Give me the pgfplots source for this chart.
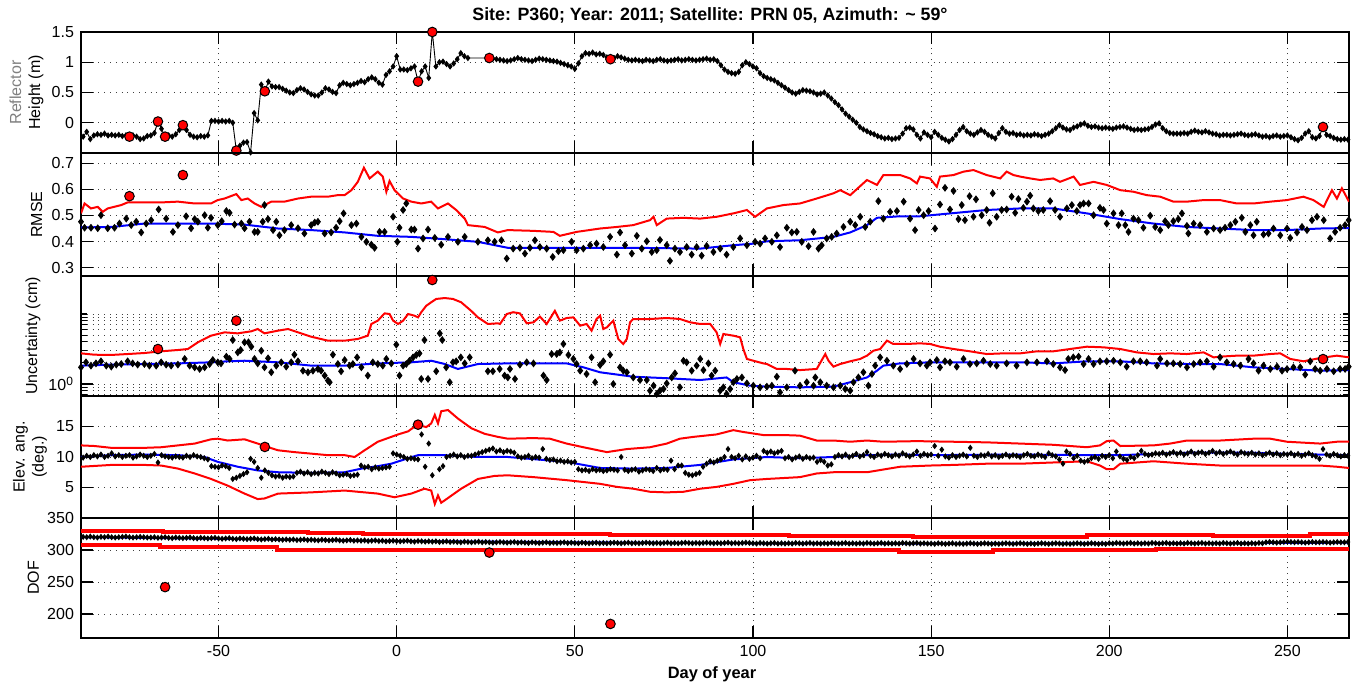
\documentclass[border=0pt]{standalone}
\usepackage{fontspec}
\setmainfont{Liberation Sans}
\usepackage{pgfplots}
\usepackage{pgfplotstable}
\pgfplotsset{compat=1.18}

% daily solutions: reflector height (m), elevation angle (deg), degrees of freedom
\pgfplotstableread{
d h e f
-88 -0.23 9.9 320.5
-87 -0.15 10.2 320
-86 -0.27 10.0 321
-85 -0.21 10.3 320
-84 -0.19 10.1 319.5
-83 -0.20 10.4 320.5
-82 -0.18 10.0 320
-81 -0.21 10.2 321
-80 -0.20 10.6 320
-79 -0.21 10.1 319.5
-78 -0.20 10.3 320
-77 -0.22 10.0 320.5
-76 -0.21 10.2 321
-75 -0.23 10.3 320
-74 -0.21 9.9 319.5
-73 -0.23 10.1 320
-72 -0.27 10.4 320.5
-71 -0.26 10.2 320
-70 -0.22 10.0 319.5
-69 -0.21 10.2 319.5
-68 -0.17 10.5 320
-67 0.02 9.1 319
-66 -0.10 10.3 319.5
-65 -0.23 10.1 320
-64 -0.21 10.0 319
-63 -0.23 9.9 318.5
-62 -0.19 10.1 319.5
-61 -0.12 10.0 319
-60 -0.04 9.9 318.5
-59 -0.12 10.2 319
-58 -0.20 10.0 319.5
-57 -0.23 10.3 318.5
-56 -0.24 10.1 318
-55 -0.22 10.0 319
-54 -0.23 9.8 318.5
-53 -0.21 9.6 318
-52 0.03 8.5 318.5
-51 0.03 8.4 319
-50 0.02 8.3 318
-49 0.03 8.6 317.5
-48 0.02 8.5 318
-47 0.03 8.2 318.5
-46 0.00 6.4 317.5
-45 -0.46 6.6 317
-44 -0.38 6.9 318
-43 -0.33 7.2 317.5
-42 -0.32 7.5 317
-41 -0.49 9.7 317.5
-40 0.16 9.2 318
-39 0.04 8.2 317
-38 0.63 6.6 316.5
-37 0.52 7.8 317
-36 0.68 7.4 317.5
-35 0.60 7.0 316.5
-34 0.59 6.8 317
-33 0.59 6.9 316.5
-32 0.56 6.6 316
-31 0.53 6.8 316.5
-30 0.50 6.7 316
-29 0.49 6.8 316.5
-28 0.54 7.4 315.5
-27 0.57 7.6 316
-26 0.55 7.3 316.5
-25 0.51 7.5 315.5
-24 0.47 7.2 316
-23 0.45 7.4 315.5
-22 0.45 7.3 315
-21 0.50 7.6 316
-20 0.57 7.4 315.5
-19 0.55 7.2 315
-18 0.51 7.5 315.5
-17 0.49 7.3 316
-16 0.62 7.0 315
-15 0.66 7.1 314.5
-14 0.64 7.2 315
-13 0.62 6.9 315.5
-12 0.64 7.0 314.5
-11 0.66 7.1 315
-10 0.69 8.6 314.5
-9 0.67 8.3 315
-8 0.72 8.4 314
-7 0.75 8.0 314.5
-6 0.72 8.3 315
-5 0.66 8.1 314
-4 0.63 8.2 314.5
-3 0.79 8.3 313.5
-2 0.85 8.4 314
-1 0.93 10.6 314.5
0 1.10 10.4 314
1 0.88 10.2 313.5
2 0.88 10.0 314
3 0.87 9.7 314.5
4 0.90 9.8 313.5
5 0.93 9.7 313
6 0.68 9.6 314
7 0.85 13.7 313.5
8 0.93 8.4 313
9 0.74 12.2 313.5
10 1.50 7.0 313
11 0.93 nan 313.5
12 1.00 8.0 312.5
13 1.01 8.5 313
14 0.97 10.0 313.5
15 0.93 10.2 312.5
16 0.98 10.4 313
17 1.05 10.1 312.5
18 1.15 10.3 312
19 1.10 10.0 313
20 1.07 10.2 312.5
21 nan 10.2 312
22 nan 10.4 312.5
23 nan 10.6 313
24 nan 10.8 312
25 nan 11.0 312.5
26 1.07 11.2 312
27 1.06 11.4 311.5
28 1.05 10.9 312
29 1.04 11.1 312.5
30 1.03 10.8 312
31 1.02 11.0 311.5
32 1.03 10.9 312
33 1.05 10.7 312.5
34 1.07 10.1 311.5
35 1.05 9.9 312
36 1.04 10.0 311.5
37 1.03 10.2 311
38 1.02 9.8 312
39 1.04 10.0 311.5
40 1.06 9.9 311
41 1.05 11.3 311.5
42 1.04 9.7 312
43 1.03 9.5 311
44 1.02 9.6 311.5
45 1.01 9.3 311
46 0.99 9.4 311.5
47 0.97 9.2 312
48 0.95 9.3 311
49 0.93 9.1 311.5
50 0.89 9.2 311
51 0.98 8.0 310.5
52 1.10 7.8 311.5
53 1.15 7.9 311
54 1.14 7.7 310.5
55 1.16 8.0 311
56 1.13 7.8 311.5
57 1.14 7.9 310.5
58 1.12 7.7 311
59 1.08 7.8 310.5
60 1.05 8.0 311
61 1.07 7.9 311.5
62 1.10 7.8 311
63 1.08 10.0 310.5
64 1.06 7.9 311
65 1.04 7.7 311.5
66 1.03 7.9 310.5
67 1.04 8.0 311
68 1.03 7.6 310.5
69 1.02 7.8 311
70 1.04 8.0 311.5
71 1.03 7.9 311
72 1.02 7.7 310.5
73 1.04 8.2 311
74 1.05 7.8 310.5
75 1.03 8.0 311
76 1.02 7.9 311.5
77 1.03 9.4 310.5
78 1.04 8.0 311
79 1.05 8.6 310.5
80 1.03 8.6 311
81 1.04 7.4 311.5
82 1.05 7.1 311
83 1.04 7.0 310.5
84 1.03 7.2 311
85 1.04 7.4 310.5
86 1.05 8.4 311
87 1.06 8.9 311.5
88 1.04 9.3 311
89 1.05 9.1 310.5
90 1.02 9.4 311
91 0.95 9.6 310.5
92 0.88 10.0 311
93 0.84 11.3 311.5
94 0.82 10.0 310.5
95 0.81 9.8 311
96 0.84 10.2 310.5
97 0.95 9.6 311
98 1.00 10.1 311.5
99 0.97 9.7 311
100 0.93 9.9 310.5
101 0.90 10.2 310
102 0.82 9.8 311
103 0.77 11.0 310.5
104 0.74 10.7 310
105 0.72 10.9 310.5
106 0.70 10.6 311
107 0.66 10.8 310
108 0.62 11.0 310.5
109 0.58 9.8 310
110 0.54 10.0 310.5
111 0.50 9.6 310
112 0.48 9.9 311
113 0.51 10.1 310.5
114 0.54 9.7 310
115 0.53 10.0 310.5
116 0.52 9.8 311
117 0.50 9.9 310
118 0.47 9.2 310.5
119 0.48 9.5 310
120 0.50 9.2 310.5
121 0.45 8.6 310
122 0.40 8.8 311
123 0.34 10.0 310.5
124 0.29 10.3 310
125 0.22 10.1 310.5
126 0.15 10.4 311
127 0.10 10.0 310
128 0.05 10.2 310.5
129 0.00 10.5 310
130 -0.07 10.1 310.5
131 -0.11 10.3 310
132 -0.14 10.8 311
133 -0.17 10.2 310.5
134 -0.19 10.0 310
135 -0.22 10.4 310.5
136 -0.24 10.2 311
137 -0.26 10.5 310
138 -0.25 10.3 310.5
139 -0.27 10.1 310
140 -0.26 10.4 310.5
141 -0.25 10.2 310
142 -0.18 10.6 311
143 -0.09 10.3 310.5
144 -0.08 10.1 310
145 -0.11 10.4 310.5
146 -0.20 10.9 311
147 -0.26 10.2 310
148 -0.16 10.5 310.5
149 -0.20 10.3 310
150 -0.24 10.4 310
151 -0.15 11.8 309.5
152 -0.20 10.2 310.5
153 -0.25 11.2 310
154 -0.28 10.1 309.5
155 -0.31 9.9 310
156 -0.27 10.3 310.5
157 -0.20 10.0 309.5
158 -0.12 10.2 310
159 -0.07 10.4 309.5
160 -0.14 10.1 310
161 -0.18 11.5 310.5
162 -0.20 10.2 310
163 -0.16 10.0 309.5
164 -0.12 10.3 310
165 -0.15 10.2 310.5
166 -0.20 10.5 310
167 -0.23 10.1 309.5
168 -0.26 10.3 310
169 -0.17 10.0 309.5
170 -0.09 10.2 310
171 -0.15 10.4 310.5
172 -0.18 10.1 310
173 -0.17 10.3 309.5
174 -0.20 10.2 310
175 -0.19 10.0 310.5
176 -0.21 10.3 310
177 -0.20 10.5 309.5
178 -0.21 10.2 310
179 -0.19 10.1 309.5
180 -0.20 10.4 310
181 -0.22 10.2 310.5
182 -0.20 10.0 310
183 -0.18 10.6 309.5
184 -0.14 10.3 310
185 -0.09 10.1 310.5
186 -0.04 9.6 310
187 -0.08 8.9 309.5
188 -0.11 10.9 310
189 -0.12 10.5 309.5
190 -0.08 9.8 310
191 -0.06 10.2 310.5
192 -0.03 9.4 310
193 -0.01 9.2 309.5
194 -0.05 9.4 310
195 -0.07 9.8 310.5
196 -0.06 10.0 310
197 -0.08 9.7 309.5
198 -0.09 10.2 310
199 -0.08 10.0 309.5
200 -0.09 10.3 310.5
201 -0.10 9.8 310
202 -0.08 10.9 311
203 -0.07 10.1 310.5
204 -0.06 9.7 310
205 -0.08 9.5 310.5
206 -0.10 10.0 311
207 -0.12 9.8 310
208 -0.11 10.3 310.5
209 -0.12 11.0 310
210 -0.11 10.5 310.5
211 -0.10 10.3 310
212 -0.07 10.4 311
213 -0.03 10.6 310.5
214 -0.01 10.5 310
215 -0.09 10.7 310.5
216 -0.14 10.4 311
217 -0.17 10.6 310
218 -0.18 10.8 310.5
219 -0.18 10.5 310
220 -0.18 10.7 310.5
221 -0.17 10.4 310
222 -0.18 10.6 311
223 -0.15 10.9 310.5
224 -0.13 10.5 310
225 -0.15 10.7 310.5
226 -0.16 10.8 311
227 -0.14 10.5 310
228 -0.16 10.7 310.5
229 -0.18 11.0 310
230 -0.19 10.6 310.5
231 -0.21 10.8 310
232 -0.20 10.5 311
233 -0.20 10.7 310.5
234 -0.21 10.9 310
235 -0.20 10.6 310.5
236 -0.19 10.4 311
237 -0.18 10.8 310
238 -0.20 10.6 310.5
239 -0.21 10.5 310
240 -0.20 10.7 310.5
241 -0.19 10.4 310
242 -0.21 10.6 311
243 -0.23 10.3 310.5
244 -0.22 10.5 312
245 -0.24 10.7 312.5
246 -0.22 10.4 312
247 -0.21 10.6 311.5
248 -0.23 10.3 312
249 -0.22 10.5 312.5
250 -0.21 10.4 313
251 -0.24 10.6 312.5
252 -0.27 10.3 312
253 -0.29 10.5 312.5
254 -0.25 10.2 312
255 -0.18 10.4 311.5
256 -0.14 10.6 312
257 -0.24 10.3 312.5
258 -0.26 10.1 312
259 -0.22 9.7 312
260 -0.07 11.3 312.5
261 -0.20 10.4 312
262 -0.22 10.2 311.5
263 -0.25 10.5 312
264 -0.27 10.3 312.5
265 -0.28 10.1 312
266 -0.27 10.3 312
267 -0.28 10.2 312.5
}\daily

% RMSE of the daily fits
\pgfplotstableread{
d r
-88.6 0.476
-87.6 0.453
-85.8 0.453
-83.9 0.451
-83.0 0.501
-81.1 0.451
-79.2 0.453
-77.8 0.469
-75.9 0.488
-74.5 0.463
-73.1 0.476
-71.7 0.435
-70.3 0.469
-68.9 0.482
-66.8 0.523
-64.7 0.488
-62.8 0.437
-61.4 0.463
-59.1 0.497
-57.7 0.451
-56.7 0.486
-55.8 0.476
-53.9 0.501
-53.0 0.453
-52.1 0.491
-50.2 0.463
-49.1 0.478
-47.8 0.517
-46.9 0.510
-45.5 0.465
-43.6 0.469
-42.7 0.451
-41.3 0.476
-39.9 0.437
-39.0 0.437
-37.6 0.476
-37.1 0.540
-36.1 0.486
-34.7 0.444
-33.8 0.476
-32.9 0.424
-31.5 0.444
-29.6 0.463
-27.7 0.451
-25.9 0.431
-24.0 0.463
-23.0 0.473
-22.1 0.476
-20.2 0.431
-18.4 0.435
-17.0 0.453
-16.0 0.478
-14.9 0.508
-12.7 0.463
-11.3 0.469
-9.9 0.418
-8.5 0.399
-7.1 0.388
-6.2 0.376
-4.8 0.437
-3.4 0.437
-1.0 0.495
0.2 0.399
0.8 0.453
1.8 0.521
2.7 0.546
4.1 0.446
5.0 0.446
6.0 0.373
7.4 0.412
8.8 0.446
10.7 0.414
12.5 0.388
14.4 0.418
17.2 0.399
19.1 0.418
22.8 0.399
25.6 0.405
27.5 0.399
29.4 0.405
30.9 0.335
32.7 0.373
34.6 0.376
36.0 0.354
37.4 0.376
38.8 0.405
40.2 0.379
42.1 0.373
43.8 0.341
45.4 0.363
46.8 0.367
49.1 0.399
50.5 0.367
52.4 0.373
54.3 0.386
56.1 0.392
58.0 0.379
59.9 0.418
61.8 0.350
62.7 0.435
64.1 0.386
66.0 0.354
67.4 0.422
68.8 0.373
70.2 0.401
71.6 0.360
73.0 0.367
73.9 0.406
75.8 0.386
76.7 0.326
78.1 0.373
79.5 0.360
81.4 0.379
82.8 0.350
84.2 0.379
85.6 0.346
87.0 0.383
88.9 0.360
90.8 0.373
92.6 0.350
94.5 0.379
96.4 0.412
98.3 0.386
100.6 0.399
102.0 0.392
103.4 0.412
105.3 0.399
106.7 0.424
107.6 0.379
109.5 0.453
110.9 0.435
112.3 0.437
113.7 0.399
115.6 0.382
117.0 0.437
118.4 0.373
119.3 0.386
120.7 0.412
122.1 0.418
123.5 0.431
125.4 0.456
127.3 0.476
128.7 0.463
130.1 0.495
131.5 0.456
132.9 0.476
135.2 0.555
136.6 0.488
138.5 0.514
140.4 0.517
142.3 0.553
144.1 0.488
145.5 0.444
146.5 0.521
147.9 0.501
149.3 0.517
151.1 0.450
152.5 0.542
153.9 0.606
155.3 0.523
156.3 0.594
157.7 0.486
158.6 0.540
159.5 0.482
160.8 0.574
161.9 0.495
162.6 0.562
164.2 0.501
165.6 0.521
166.4 0.472
167.3 0.585
168.4 0.495
169.8 0.521
171.2 0.523
172.6 0.572
173.6 0.510
174.5 0.563
175.9 0.529
176.9 0.553
177.8 0.576
178.7 0.527
180.1 0.517
181.5 0.521
183.4 0.555
184.8 0.521
186.2 0.495
188.1 0.527
189.5 0.540
190.9 0.517
191.8 0.540
192.8 0.546
194.2 0.546
195.6 0.501
197.4 0.529
198.4 0.521
199.3 0.469
201.2 0.508
202.6 0.463
203.5 0.508
204.5 0.463
205.4 0.437
206.8 0.488
208.2 0.482
209.6 0.453
211.5 0.499
212.9 0.456
214.3 0.444
215.7 0.478
216.6 0.463
218.0 0.478
219.4 0.486
220.4 0.508
221.8 0.460
222.2 0.431
223.7 0.469
225.5 0.463
227.4 0.437
229.3 0.450
231.1 0.444
232.5 0.453
234.0 0.463
235.4 0.476
237.2 0.491
238.2 0.437
239.6 0.463
240.5 0.424
241.4 0.476
243.3 0.427
244.7 0.431
246.1 0.450
248.0 0.424
249.9 0.450
250.8 0.414
252.7 0.435
254.1 0.456
255.5 0.444
256.9 0.482
258.3 0.495
260.2 0.482
262.0 0.412
263.4 0.437
264.8 0.453
266.2 0.463
267.2 0.482
}\rmsepts

\pgfplotstableread{
d r
-88.6 0.508
-87.6 0.546
-85.8 0.527
-83.9 0.533
-82.5 0.514
-81.1 0.527
-77.3 0.540
-75.5 0.550
-70.8 0.550
-66.1 0.550
-61.4 0.553
-56.7 0.546
-52.1 0.546
-50.2 0.559
-48.3 0.565
-45.0 0.582
-43.6 0.559
-41.8 0.565
-39.9 0.546
-38.0 0.533
-35.2 0.553
-31.5 0.553
-27.7 0.565
-24.0 0.572
-19.3 0.572
-16.5 0.578
-14.6 0.578
-12.7 0.597
-10.9 0.629
-9.2 0.683
-7.6 0.642
-5.3 0.668
-3.9 0.649
-2.9 0.591
-2.0 0.632
-0.6 0.597
1.8 0.565
4.1 0.553
6.9 0.546
9.7 0.553
11.6 0.527
14.4 0.546
16.7 0.521
19.1 0.488
20.0 0.463
24.7 0.456
28.4 0.435
31.2 0.444
38.4 0.441
44.0 0.437
45.8 0.422
50.5 0.437
57.1 0.450
61.8 0.456
66.4 0.463
71.1 0.482
72.1 0.495
73.0 0.463
75.8 0.488
80.5 0.491
85.2 0.488
89.8 0.495
94.5 0.508
98.3 0.521
100.6 0.495
103.9 0.527
108.6 0.540
113.2 0.546
117.9 0.565
122.6 0.585
124.5 0.597
127.3 0.578
132.0 0.636
134.8 0.617
136.6 0.655
141.3 0.655
144.1 0.642
146.0 0.623
146.9 0.649
149.7 0.642
151.6 0.610
152.5 0.649
156.3 0.655
159.1 0.668
161.9 0.674
165.6 0.655
169.4 0.642
171.2 0.668
173.1 0.655
175.0 0.649
177.8 0.642
180.6 0.636
184.3 0.642
186.2 0.629
190.0 0.649
191.8 0.617
195.6 0.629
199.3 0.617
203.1 0.597
206.8 0.591
210.5 0.578
214.3 0.572
218.0 0.553
221.8 0.553
226.5 0.559
231.1 0.559
235.8 0.546
240.5 0.546
245.2 0.553
249.9 0.559
254.5 0.572
257.3 0.559
260.2 0.533
262.5 0.597
263.9 0.565
265.3 0.604
267.3 0.553
}\rmsehi

\pgfplotstableread{
d r
-88.6 0.454
-80.0 0.456
-70.8 0.469
-61.4 0.469
-52.1 0.469
-42.7 0.465
-33.3 0.450
-24.0 0.444
-14.6 0.435
-5.3 0.422
4.1 0.418
13.5 0.409
22.8 0.399
31.2 0.376
47.7 0.376
66.4 0.376
85.2 0.373
94.5 0.386
100.1 0.392
103.9 0.401
113.2 0.405
122.6 0.418
127.3 0.435
132.0 0.463
134.8 0.491
141.3 0.497
146.9 0.497
165.6 0.521
175.0 0.527
184.3 0.527
193.7 0.508
203.1 0.486
212.4 0.469
221.8 0.456
231.1 0.450
240.5 0.444
249.9 0.444
259.2 0.450
267.3 0.452
}\rmseavg

% height uncertainty (cm)
\pgfplotstableread{
d u
-88.6 1.73
-87.2 2.04
-85.8 1.83
-84.4 1.97
-83.0 2.11
-81.5 1.83
-80.1 1.77
-78.7 1.89
-77.3 1.93
-75.5 2.11
-74.1 1.97
-72.7 1.89
-70.8 1.93
-69.4 1.83
-67.5 1.83
-66.1 2.04
-64.7 1.89
-63.3 1.83
-61.4 1.89
-59.5 2.28
-58.1 1.83
-56.7 1.73
-55.3 1.64
-53.9 1.73
-52.5 1.93
-51.6 2.20
-50.2 2.04
-49.3 1.97
-47.8 2.46
-46.9 2.28
-46.0 4.25
-44.6 2.83
-43.8 3.06
-42.7 3.94
-41.6 3.94
-40.8 3.41
-39.9 2.28
-39.0 1.97
-38.0 2.99
-37.1 1.73
-36.1 2.33
-35.2 1.47
-33.8 1.83
-32.4 2.04
-31.0 1.77
-29.6 2.04
-28.7 2.62
-27.7 2.11
-26.3 1.55
-24.9 1.47
-23.5 1.55
-22.1 1.64
-21.2 1.55
-20.2 1.32
-19.3 1.12
-18.8 1.06
-17.9 2.62
-16.5 1.93
-15.6 1.52
-14.6 2.20
-13.2 1.83
-12.3 1.93
-11.1 2.40
-9.9 1.73
-8.1 1.32
-6.7 2.04
-5.3 1.93
-3.9 1.83
-2.9 2.28
-1.5 1.97
-0.1 3.65
0.8 1.32
1.8 1.83
2.7 1.93
3.6 2.15
4.6 2.40
5.5 2.60
6.4 2.74
6.9 1.18
7.8 4.25
8.8 1.18
11.1 1.52
12.1 5.29
12.8 4.25
13.9 1.73
14.9 1.06
15.8 2.04
16.7 2.11
18.0 2.40
19.1 1.97
20.5 2.40
25.6 1.52
27.0 1.52
28.9 1.64
30.3 1.32
31.2 1.24
31.8 1.64
33.2 1.18
34.6 1.89
36.5 2.04
38.4 1.97
41.2 1.32
42.1 1.14
43.5 2.68
44.9 2.68
45.8 2.83
46.8 3.73
48.2 2.60
49.6 2.28
50.5 1.93
51.5 1.55
53.3 1.39
54.7 2.40
55.7 1.06
57.1 1.87
58.0 2.11
59.9 2.62
60.8 1.00
62.7 1.73
63.6 1.55
64.6 1.47
66.4 1.24
68.3 1.14
70.2 1.14
71.1 0.803
72.1 0.946
73.0 0.72
73.9 0.803
74.9 0.849
75.8 1.02
77.2 1.24
78.1 1.42
79.5 0.896
80.5 2.15
81.4 2.04
82.8 1.55
84.2 1.83
85.2 2.28
86.1 1.58
87.5 1.97
88.4 1.32
89.4 1.55
90.8 0.803
91.7 0.896
92.6 0.72
93.6 0.849
94.5 1.06
95.5 1.18
96.9 1.24
98.3 1.02
100.1 0.946
102.0 0.896
103.9 0.916
105.3 0.946
106.7 1.27
107.6 0.76
109.5 0.896
111.8 1.55
113.2 0.946
115.1 1.06
117.0 0.946
117.5 1.24
118.9 1.06
120.7 0.946
122.6 0.896
124.5 0.946
125.9 0.849
127.3 0.803
128.2 1.06
129.6 1.24
131.0 1.47
132.4 0.946
133.4 1.39
134.3 1.83
135.7 2.40
137.6 2.15
139.4 1.83
141.3 1.64
143.2 1.93
145.1 2.28
146.9 1.97
148.8 1.83
149.7 2.04
151.6 2.20
152.5 1.73
153.9 2.11
155.3 2.04
157.2 1.77
159.1 2.28
160.9 1.93
162.8 1.97
164.7 2.15
166.6 1.93
168.4 1.83
171.2 1.97
174.0 1.83
176.9 2.04
179.7 2.04
182.5 2.11
184.3 1.93
186.2 1.73
187.6 1.58
188.5 2.28
189.9 2.40
191.4 2.46
192.8 1.93
194.2 2.28
195.6 1.93
197.4 2.11
199.3 2.11
201.2 2.15
203.1 2.04
204.9 1.77
206.8 2.11
208.7 2.11
210.5 2.04
213.4 1.83
214.3 2.28
216.2 1.97
218.0 1.97
219.9 1.93
221.8 1.73
223.7 1.93
225.5 2.04
227.4 2.11
229.3 1.77
231.1 2.40
233.0 2.04
234.9 1.93
236.8 1.83
239.1 2.28
240.5 1.97
241.9 1.55
243.3 1.83
245.2 1.64
247.1 1.77
248.5 1.55
249.9 1.64
251.7 1.73
253.6 1.73
255.0 1.36
256.4 2.11
257.8 1.64
259.2 1.55
261.1 1.64
263.0 1.52
264.8 1.64
266.2 1.64
267.2 1.77
}\uncpts

\pgfplotstableread{
d u
-88.6 2.74
-84.8 2.62
-80.1 2.60
-75.5 2.68
-70.8 2.77
-66.1 2.93
-61.4 3.06
-58.6 3.16
-55.8 3.94
-52.1 4.90
-48.3 5.47
-44.6 5.29
-40.8 5.66
-39.0 6.10
-37.1 5.29
-33.3 5.78
-30.5 6.10
-27.7 5.47
-24.0 4.74
-19.3 4.16
-14.6 4.16
-10.9 4.40
-8.1 4.90
-7.1 7.20
-5.3 8.03
-3.4 10.2
-2.0 10.0
-1.0 8.03
0.4 7.20
1.8 8.03
3.2 10.0
5.0 9.46
6.0 8.95
6.9 10.6
8.3 13.1
9.7 14.7
11.1 16.4
13.5 16.9
15.8 16.4
18.1 14.7
20.9 11.1
22.8 8.95
25.6 7.20
28.4 7.36
29.0 7.20
30.9 10.0
32.7 10.6
34.6 10.2
36.5 7.36
38.4 7.60
40.2 9.18
42.1 7.20
44.4 11.1
45.8 8.03
47.7 8.76
49.6 8.95
51.5 6.81
53.3 7.20
54.7 5.78
56.1 8.48
57.1 9.46
58.0 6.10
59.0 6.45
60.8 8.03
62.2 4.40
63.6 3.73
64.6 4.40
65.5 7.60
66.4 8.48
71.1 8.48
75.8 8.76
79.5 8.48
82.4 7.60
85.2 7.20
88.0 7.20
89.8 5.47
90.8 3.73
91.7 5.18
94.5 4.90
96.4 4.64
97.3 3.16
98.3 2.28
100.1 2.15
102.9 1.97
103.9 1.93
106.7 1.64
109.5 1.64
113.2 1.58
117.9 1.64
120.3 2.68
121.2 2.15
122.6 1.77
124.5 1.93
127.3 2.11
130.1 2.28
132.0 2.54
133.8 2.99
135.7 3.16
137.6 4.16
139.4 3.73
143.2 3.73
146.9 3.81
149.7 3.73
152.5 3.41
156.3 3.16
160.9 2.93
165.6 2.68
170.3 2.74
175.0 2.74
179.7 2.93
184.3 2.93
189.0 3.16
193.7 3.41
198.4 3.34
203.1 3.16
207.7 2.83
212.4 2.68
217.1 2.74
221.8 2.68
226.5 2.83
229.3 2.40
231.1 2.46
235.8 2.54
240.5 2.54
245.2 2.68
248.0 2.74
250.8 2.28
254.5 2.11
259.2 2.35
263.9 2.54
267.3 2.40
}\unchi

\pgfplotstableread{
d u
-88.6 1.83
-80.1 1.89
-70.8 1.93
-61.4 1.97
-52.1 2.04
-47.4 2.11
-42.7 2.15
-33.3 2.04
-24.0 1.83
-14.6 1.83
-5.3 1.97
4.1 2.04
9.7 2.15
13.5 1.93
17.2 1.64
22.8 1.93
31.2 1.97
38.4 1.97
47.7 1.97
52.4 1.73
57.1 1.47
66.4 1.27
75.8 1.21
85.2 1.14
92.6 1.24
94.5 1.06
99.2 0.946
103.9 0.916
113.2 0.896
122.6 0.916
127.3 1.06
132.0 1.24
134.8 1.55
136.6 1.83
141.3 1.97
149.7 2.04
156.3 2.04
165.6 2.04
175.0 2.04
184.3 1.97
193.7 2.11
203.1 2.11
212.4 1.97
221.8 1.93
231.1 1.93
240.5 1.73
249.9 1.64
259.2 1.55
267.3 1.58
}\uncavg

% elevation-angle bounds and running mean (deg)
\pgfplotstableread{
d e
-88.6 11.9
-84.8 11.8
-80.1 11.5
-70.8 11.5
-66.1 11.6
-61.4 11.9
-56.7 12.2
-52.1 12.9
-50.2 13.0
-47.4 12.7
-42.7 12.9
-39.0 12.2
-37.1 11.8
-33.3 11.1
-28.7 10.8
-19.3 10.3
-14.6 10.3
-11.8 10.0
-9.0 11.1
-5.3 12.5
-1.5 13.3
0.4 13.7
3.2 14.2
5.8 15.3
8.3 14.9
9.7 15.5
10.7 16.9
11.6 15.5
12.5 17.5
14.4 17.7
17.2 16.3
21.0 14.7
24.7 13.8
28.4 13.3
31.2 13.0
38.4 13.1
43.0 13.0
47.7 12.2
52.4 11.6
59.0 10.8
64.6 11.3
71.1 11.6
75.8 12.2
79.5 13.0
83.3 13.3
89.8 13.7
94.5 14.4
97.3 14.1
102.9 13.6
108.6 13.6
113.2 13.5
117.9 12.7
122.6 12.7
127.3 12.5
132.0 12.7
136.6 12.5
146.0 12.6
156.3 12.5
165.6 12.4
175.0 12.2
184.3 12.0
189.0 11.8
193.7 11.6
197.4 11.9
199.3 12.6
201.2 12.7
203.1 11.8
212.4 11.9
217.1 12.2
221.8 12.7
231.1 12.7
240.5 13.0
245.2 13.0
249.9 12.5
259.2 12.2
263.9 12.5
267.3 12.5
}\elevhi

\pgfplotstableread{
d e
-88.6 8.4
-80.1 8.7
-70.8 8.7
-66.1 8.6
-61.4 8.1
-56.7 7.3
-52.1 6.4
-47.4 5.3
-42.7 4.0
-39.0 3.1
-37.1 3.2
-33.3 4.0
-24.0 4.2
-14.6 4.5
-5.3 4.0
-0.6 3.4
4.1 4.0
7.8 4.8
9.7 4.5
10.7 2.3
11.6 3.7
12.5 2.5
13.5 2.9
18.1 4.8
22.8 6.4
27.5 6.9
31.2 7.0
38.4 6.7
47.7 6.2
57.1 5.6
61.8 5.1
66.4 4.8
71.1 4.3
75.8 4.2
80.5 4.3
85.2 4.8
89.8 5.1
94.5 5.6
99.2 6.2
103.9 6.4
113.2 6.7
117.9 7.3
122.6 7.5
132.0 7.5
141.3 8.4
149.7 8.6
156.3 8.7
165.6 8.9
175.0 8.9
184.3 9.1
193.7 9.3
197.4 8.6
199.3 8.0
201.2 8.0
203.1 8.9
212.4 9.3
221.8 8.9
231.1 8.6
240.5 8.6
259.2 8.6
263.9 8.4
267.3 8.2
}\elevlo

\pgfplotstableread{
d e
-88.6 10.0
-80.1 10.3
-70.8 10.4
-61.4 10.3
-53.9 10.0
-50.2 9.2
-44.6 8.4
-39.0 7.8
-33.3 7.5
-24.0 7.4
-14.6 7.5
-9.9 8.1
-5.3 8.5
-1.5 8.9
3.2 9.8
6.0 10.3
13.5 10.3
22.8 10.0
31.2 10.0
47.7 9.2
57.1 8.2
66.4 8.1
75.8 8.2
85.2 8.7
94.5 9.6
103.9 10.0
113.2 9.8
122.6 10.0
132.0 10.3
141.3 10.4
149.7 10.3
175.0 10.4
193.7 10.3
203.1 10.3
212.4 10.5
221.8 10.7
240.5 10.7
249.9 10.5
259.2 10.4
267.3 10.3
}\elevavg

% degrees-of-freedom bounds and running mean
\pgfplotstableread{
d f
-88.6 329
-65.5 327.5
-25 326.5
-9.4 325
15 324.5
60 323
110 321.5
145 321
193.7 323.4
229 322.4
256.4 325
267.3 325
}\dofhi

\pgfplotstableread{
d f
-88.6 307.8
-66.4 305.2
-33.6 300.5
80 299.5
141 297.5
167.5 300
213 301
244 301.5
267.3 301.5
}\doflo

\pgfplotstableread{
d f
-88.6 320
-50 317.5
0 314
50 312
100 310.5
150 310
200 310.5
250 311
267.3 311.5
}\dofavg

\pgfplotsset{
  panel/.style={
    scale only axis, width=634pt,
    xmin=-88.6, xmax=267.3,
    xtick={-50,0,...,250}, xticklabels={},
    tick pos=both, tick align=inside,
    major tick length=6pt, minor tick length=3pt,
    grid=major,
    major grid style={black!75, line width=0.45pt, dash pattern=on 0.5pt off 2.4pt},
    minor grid style={black!75, line width=0.45pt, dash pattern=on 0.5pt off 2.4pt},
    axis line style={line width=0.7pt},
    every tick/.style={black, line width=0.55pt},
    tick label style={font=\fontsize{8}{9}\selectfont},
    /pgf/number format/assume math mode=true,
    ylabel style={font=\fontsize{8}{9.5}\selectfont, align=center, anchor=center},
  },
  dia/.style={only marks, mark=diamond*, mark size=1.25pt, black, mark options={fill=black}},
  bigdia/.style={only marks, mark=diamond*, mark size=1.65pt, black, mark options={fill=black}},
  outl/.style={only marks, mark=*, mark size=2.4pt, mark options={fill=red, draw=black, line width=0.5pt}},
  env/.style={red, line width=1pt, no marks},
  avg/.style={blue, line width=1pt, no marks},
}

\begin{document}
\begin{tikzpicture}
\path[use as bounding box] (0,0) rectangle (679pt,342pt);

\node[font=\bfseries\fontsize{8.9}{10}\selectfont] at (355pt,334.5pt)
  {Site: P360; Year: 2011; Satellite: PRN 05, Azimuth: \textasciitilde{} 59°};

% reflector height
\begin{axis}[panel, at={(40.5pt,265.5pt)}, anchor=south west, height=60.5pt,
  ymin=-0.5, ymax=1.5, ytick={0,0.5,1,1.5},
  ylabel={{\color{black!50}Reflector}\\Height (m)},
  ylabel style={at={(axis description cs:-0.043,0.5)}}]
\addplot[black, line width=0.45pt, mark=diamond*, mark size=1.25pt, mark options={fill=black}]
  table[x=d, y=h] {\daily};
\addplot[outl] coordinates {(-75,-0.23) (-67,0.02) (-65,-0.23) (-60,-0.04) (-45,-0.46)
  (-37,0.52) (6,0.68) (10,1.50) (26,1.07) (60,1.05) (260,-0.07)};
\end{axis}

% RMSE
\begin{axis}[panel, at={(40.5pt,204pt)}, anchor=south west, height=61.5pt,
  ymin=0.268, ymax=0.7395, ytick={0.3,0.4,0.5,0.6,0.7},
  ylabel={RMSE},
  ylabel style={at={(axis description cs:-0.0351,0.5)}}]
\addplot[env] table[x=d, y=r] {\rmsehi};
\addplot[avg] table[x=d, y=r] {\rmseavg};
\addplot[bigdia] table[x=d, y=r] {\rmsepts};
\addplot[outl] coordinates {(-75,0.574) (-60,0.655)};
\end{axis}

% uncertainty
\begin{axis}[panel, at={(40.5pt,144pt)}, anchor=south west, height=60pt,
  ymode=log, ymin=0.674, ymax=34.9,
  ytick={1}, yticklabels={10\textsuperscript{0}},
  minor ytick={0.7,0.8,0.9,2,3,4,5,6,7,8,9,10},
  grid=both,
  ylabel={Uncertainty (cm)},
  ylabel style={at={(axis description cs:-0.0379,0.5)}}]
\addplot[env] table[x=d, y=u] {\unchi};
\addplot[avg] table[x=d, y=u] {\uncavg};
\addplot[bigdia] table[x=d, y=u] {\uncpts};
\addplot[outl] coordinates {(-67,3.16) (-45,8.03) (10,30.6) (260,2.27)};
\end{axis}

% elevation angle
\begin{axis}[panel, at={(40.5pt,83pt)}, anchor=south west, height=61pt,
  ymin=0, ymax=20, ytick={5,10,15},
  ylabel={Elev. ang.\\(deg.)},
  ylabel style={at={(axis description cs:-0.0402,0.5)}}]
\addplot[env] table[x=d, y=e] {\elevhi};
\addplot[env] table[x=d, y=e] {\elevlo};
\addplot[avg] table[x=d, y=e] {\elevavg};
\addplot[dia] table[x=d, y=e] {\daily};
\addplot[outl] coordinates {(-37,11.65) (6,15.3)};
\end{axis}

% degrees of freedom
\begin{axis}[panel, at={(40.5pt,23pt)}, anchor=south west, height=60pt,
  ymin=162.5, ymax=350, ytick={200,250,300,350},
  xticklabels={-50,0,50,100,150,200,250},
  ylabel={DOF},
  ylabel style={at={(axis description cs:-0.0375,0.5)}}]
\addplot[red, line width=2pt, const plot, no marks] table[x=d, y=f] {\dofhi};
\addplot[red, line width=2pt, const plot, no marks] table[x=d, y=f] {\doflo};
\addplot[avg] table[x=d, y=f] {\dofavg};
\addplot[black, line width=0.5pt, mark=diamond*, mark size=1.15pt, mark options={fill=black}]
  table[x=d, y=f] {\daily};
\addplot[outl] coordinates {(-65,242) (26,296) (60,184.5)};
\end{axis}

\node[font=\bfseries\fontsize{8.2}{10}\selectfont] at (356pt,4.8pt) {Day of year};
\end{tikzpicture}
\end{document}
